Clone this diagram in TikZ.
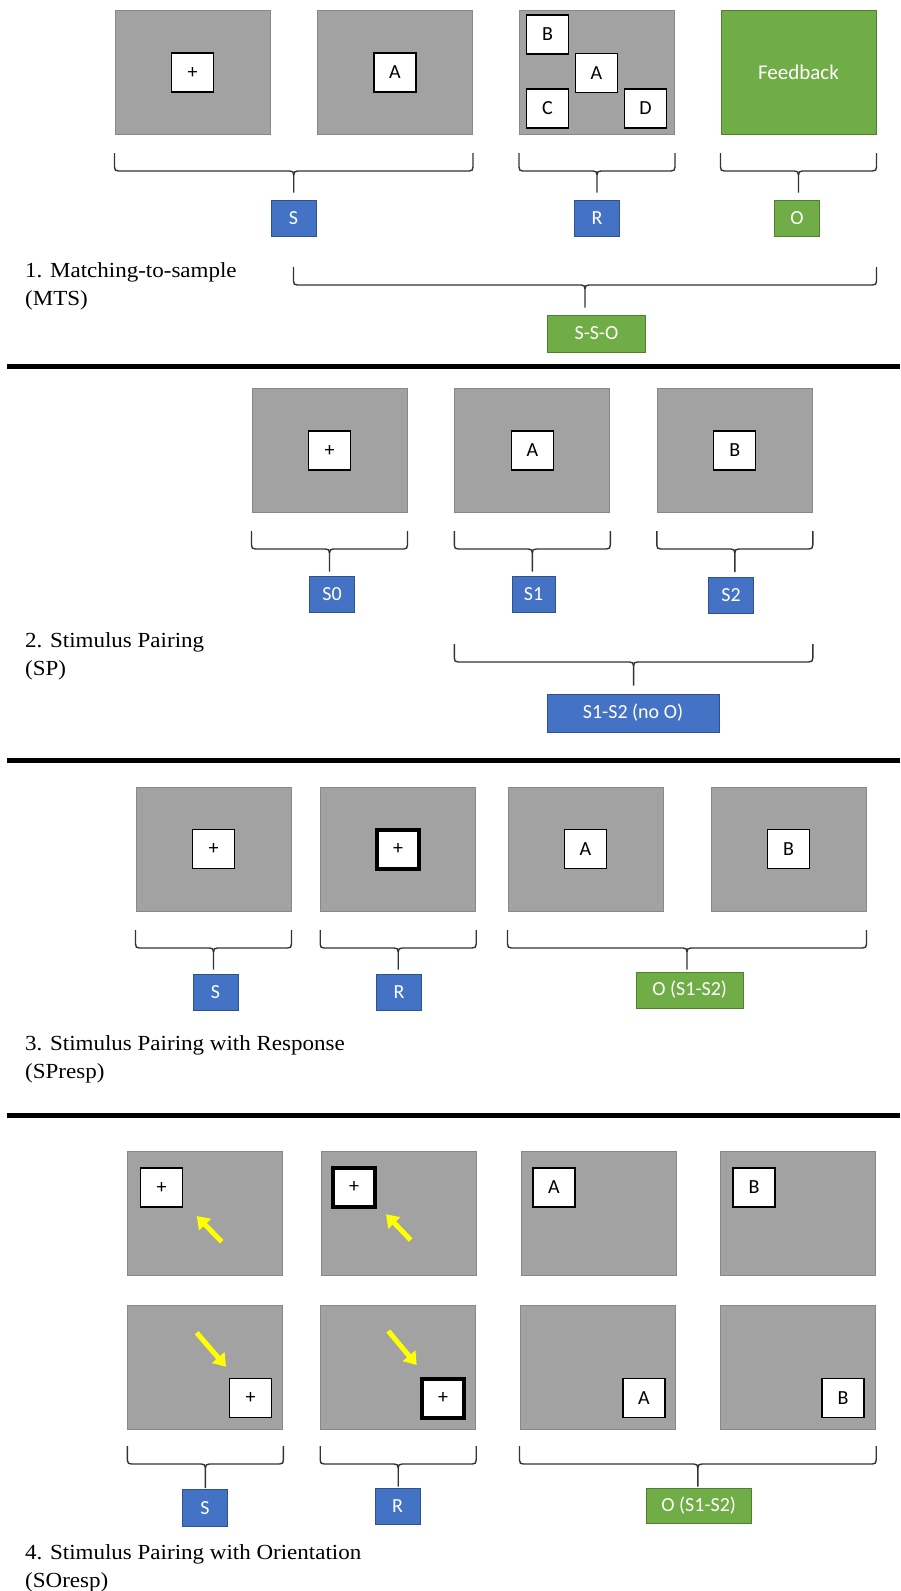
\documentclass[tikz,border=0pt]{standalone}
\usepackage{fontspec}
\setmainfont{Carlito}
\newfontfamily\ttlfont[FakeStretch=1.07]{Liberation Serif}
\usetikzlibrary{calc,arrows.meta}
\definecolor{scrfill}{RGB}{162,162,162}
\definecolor{scrline}{RGB}{136,136,136}
\definecolor{bluefill}{HTML}{4472C4}
\definecolor{blueline}{HTML}{2F528F}
\definecolor{greenfill}{HTML}{70AD47}
\definecolor{greenline}{HTML}{507E32}
\definecolor{yel}{RGB}{255,255,0}
\tikzset{
 screen/.style={draw=scrline, fill=scrfill, line width=1pt, minimum width=155pt, minimum height=124pt, inner sep=0pt},
 fbscreen/.style={screen, draw=greenline, fill=greenfill, text=white, font=\fontsize{21}{24}\selectfont},
 card/.style={draw=black, fill=white, line width=1.3pt, minimum width=42pt, minimum height=39pt, inner sep=0pt, font=\fontsize{20}{24}\selectfont},
 boldcard/.style={card, line width=4pt},
 lbl/.style={minimum height=36pt, minimum width=45pt, inner sep=0pt, text=white, font=\fontsize{20}{24}\selectfont, line width=1pt},
 blu/.style={lbl, fill=bluefill, draw=blueline},
 grn/.style={lbl, fill=greenfill, draw=greenline},
 brc/.style={draw=black!80, line width=1.4pt, line join=round},
 divider/.style={line width=5pt, black},
 ttlnode/.style={anchor=north west, align=left, inner sep=0pt, font=\ttlfont\fontsize{21.5}{28}\selectfont},
 yarr/.style={draw=yel, line width=5pt, -{Triangle[length=12pt,width=16pt]}},
}
% #1 left anchor, #2 right anchor, #3 tip y, #4 label node, #5 gap above label
\newcommand\grpbrace[5]{%
 \coordinate (bL) at (#1 |- 0,#3);
 \coordinate (bR) at (#2 |- 0,#3);
 \coordinate (bM) at ($(bL)!0.5!(bR)$);
 \draw[brc] (bL) -- ++(0,14) .. controls +(0,3) and +(-3,0) .. ++(4,4)
   -- ($(bM)+(-4,18)$) .. controls +(3,0) and +(0,-3) .. ++(4,4)
   -- ($(bM |- #4.north)+(0,-#5)$);
 \draw[brc] (bR) -- ++(0,14) .. controls +(0,3) and +(3,0) .. ++(-4,4)
   -- ($(bM)+(4,18)$) .. controls +(-3,0) and +(0,-3) .. ++(-4,4);
}
\begin{document}
\begin{tikzpicture}[x=1pt,y=-1pt]
\useasboundingbox (0,0) rectangle (900,1591);
% ---------- Panel 1 ----------
\node[screen] (p1a) at (192.5,72.5) {};
\node[screen] (p1b) at (395,72.5) {};
\node[screen] (p1c) at (597,72.5) {};
\node[fbscreen] (p1d) at (798.5,72.5) {Feedback};
\node[card] (c1a) at (p1a) {+};
\node[card] (c1b) at (p1b) {A};
\node[card] (c1cB) at (547.5,34.5) {B};
\node[card] (c1cA) at (596.5,73) {A};
\node[card] (c1cC) at (547.5,108.5) {C};
\node[card] (c1cD) at (645.5,108.5) {D};
\node[blu] (l1S) at (293.5,218) {S};
\node[blu] (l1R) at (597,218) {R};
\node[grn] (l1O) at (797,218) {O};
\node[grn, minimum width=98pt, minimum height=37pt] (l1SSO) at (596.5,333.5) {S-S-O};
\grpbrace{p1a.south west}{p1b.south east}{153}{l1S}{7}
\grpbrace{p1c.south west}{p1c.south east}{153}{l1R}{7}
\grpbrace{p1d.south west}{p1d.south east}{153}{l1O}{7}
\grpbrace{l1S.center}{p1d.south east}{267}{l1SSO}{7}
\node[ttlnode] (t1) at (25,262) {1. Matching-to-sample\\(MTS)};
\draw[divider] (7,366) -- (900,366);
% ---------- Panel 2 ----------
\node[screen] (p2a) at (329.5,450.5) {};
\node[screen] (p2b) at (532.3,450.5) {};
\node[screen] (p2c) at (734.8,450.5) {};
\node[card] (c2a) at (p2a) {+};
\node[card] (c2b) at (p2b) {A};
\node[card] (c2c) at (p2c) {B};
\node[blu] (l2S0) at (332,594) {S0};
\node[blu, minimum width=43pt] (l2S1) at (533.5,594) {S1};
\node[blu] (l2S2) at (731,595.5) {S2};
\node[blu, minimum width=172pt, minimum height=38pt] (l2S12) at (633,713) {S1-S2 (no O)};
\grpbrace{p2a.south west}{p2a.south east}{531}{l2S0}{4}
\grpbrace{p2b.south west}{p2b.south east}{531}{l2S1}{4}
\grpbrace{p2c.south west}{p2c.south east}{531}{l2S2}{5}
\grpbrace{p2b.south west}{p2c.south east}{644}{l2S12}{8}
\node[ttlnode] (t2) at (25,632) {2. Stimulus Pairing\\(SP)};
\draw[divider] (7,760) -- (900,760);
% ---------- Panel 3 ----------
\node[screen] (p3a) at (213.5,849) {};
\node[screen] (p3b) at (398.2,849) {};
\node[screen] (p3c) at (585.5,849) {};
\node[screen] (p3d) at (788.5,849) {};
\node[card] (c3a) at (p3a) {+};
\node[boldcard] (c3b) at (p3b) {+};
\node[card] (c3c) at (p3c) {A};
\node[card] (c3d) at (p3d) {B};
\node[blu] (l3S) at (215.5,992) {S};
\node[blu] (l3R) at (399,992) {R};
\node[grn, minimum width=107pt] (l3O) at (689.7,990) {O (S1-S2)};
\grpbrace{p3a.south west}{p3a.south east}{930}{l3S}{4}
\grpbrace{p3b.south west}{p3b.south east}{930}{l3R}{4}
\grpbrace{p3c.south west}{p3d.south east}{930}{l3O}{2}
\node[ttlnode] (t3) at (25,1035) {3. Stimulus Pairing with Response\\(SPresp)};
\draw[divider] (7,1115) -- (900,1115);
% ---------- Panel 4 ----------
\node[screen] (p4a) at (205.4,1213.7) {};
\node[screen] (p4b) at (399,1213.7) {};
\node[screen] (p4c) at (598.7,1213.7) {};
\node[screen] (p4d) at (798.2,1213.7) {};
\node[screen] (p4e) at (205.4,1367.7) {};
\node[screen] (p4f) at (398.2,1367.7) {};
\node[screen] (p4g) at (597.5,1367.7) {};
\node[screen] (p4h) at (798.2,1367.7) {};
\node[card] (c4a) at (161.5,1187.5) {+};
\node[boldcard] (c4b) at (354,1187.3) {+};
\node[card] (c4c) at (554,1187.5) {A};
\node[card] (c4d) at (754,1187.5) {B};
\node[card] (c4e) at (250.5,1397.7) {+};
\node[boldcard] (c4f) at (443,1398) {+};
\node[card] (c4g) at (644,1397.7) {A};
\node[card] (c4h) at (843,1397.7) {B};
\draw[yarr] (221.7,1241.7) -- (196.7,1216);
\draw[yarr] (410.7,1240) -- (386,1214.3);
\draw[yarr] (196.7,1332.7) -- (226,1366.7);
\draw[yarr] (388.3,1331) -- (416.7,1365);
\node[blu, minimum height=37pt] (l4S) at (205,1508) {S};
\node[blu] (l4R) at (397.5,1506) {R};
\node[grn, minimum width=105pt, minimum height=35pt] (l4O) at (698.7,1505.5) {O (S1-S2)};
\grpbrace{p4e.south west}{p4e.south east}{1446}{l4S}{1}
\grpbrace{p4f.south west}{p4f.south east}{1446}{l4R}{1}
\grpbrace{p4g.south west}{p4h.south east}{1446}{l4O}{1}
\node[ttlnode] (t4) at (25,1544) {4. Stimulus Pairing with Orientation\\(SOresp)};
\end{tikzpicture}
\end{document}
